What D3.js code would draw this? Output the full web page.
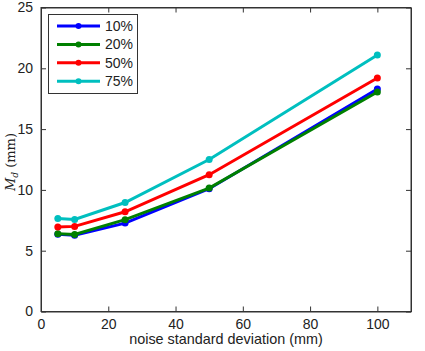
<!DOCTYPE html>
<html>
<head>
<meta charset="utf-8">
<script src="https://cdn.jsdelivr.net/npm/d3@7"></script>
<style>
  body { margin: 0; background: #fff; }
  text { font-family: Arial, "Liberation Sans", sans-serif; }
</style>
</head>
<body>
<div id="chart"></div>
<script>
// noise levels (mm)
const noise = [5, 10, 25, 50, 100];
const seriesNames = ["10%", "20%", "50%", "75%"];
const md10 = [6.35, 6.28, 7.27, 10.1, 18.3];
const md20 = [6.4, 6.33, 7.55, 10.15, 18.05];
const md50 = [6.94, 7.0, 8.2, 11.25, 19.2];
const md75 = [7.65, 7.57, 8.96, 12.5, 21.1];
const xTicks = [0, 20, 40, 60, 80, 100];
const yTicks = [0, 5, 10, 15, 20, 25];

const colors = ["#0000ff", "#008000", "#ff0000", "#00bfbf"];
const allSeries = [md10, md20, md50, md75];

let width = 425, height = 351;
let plotLeft = 41, plotRight = 411, plotTop = 7.5, plotBottom = 311.5;

const svg = d3.select("#chart")
    .append("svg")
    .attr("width", width)
    .attr("height", height);

const x = d3.scaleLinear().domain([0, 110]).range([plotLeft, plotRight]);
const y = d3.scaleLinear().domain([0, 25]).range([plotBottom, plotTop]);

// axes, ticks pointing inward like matlab
const tickLen = 5;
svg.append("g")
    .attr("transform", "translate(0," + plotBottom + ")")
    .call(d3.axisBottom(x).tickValues(xTicks).tickSizeInner(-tickLen).tickSizeOuter(0).tickPadding(8))
    .call(g => g.selectAll("text").attr("font-size", 14).attr("fill", "#222"));
svg.append("g")
    .attr("transform", "translate(" + plotLeft + ",0)")
    .call(d3.axisLeft(y).tickValues(yTicks).tickSizeInner(-tickLen).tickSizeOuter(0).tickPadding(8))
    .call(g => g.selectAll("text").attr("font-size", 14).attr("fill", "#222"));
// mirrored ticks on top and right
svg.append("g")
    .attr("transform", "translate(0," + plotTop + ")")
    .call(d3.axisTop(x).tickValues(xTicks).tickSizeInner(-tickLen).tickSizeOuter(0).tickFormat(""));
svg.append("g")
    .attr("transform", "translate(" + plotRight + ",0)")
    .call(d3.axisRight(y).tickValues(yTicks).tickSizeInner(-tickLen).tickSizeOuter(0).tickFormat(""));
svg.selectAll(".domain").attr("stroke", "#333");
svg.selectAll(".tick line").attr("stroke", "#333");

// box
svg.append("rect")
    .attr("x", plotLeft).attr("y", plotTop)
    .attr("width", plotRight - plotLeft).attr("height", plotBottom - plotTop)
    .attr("fill", "none").attr("stroke", "#333").attr("stroke-width", 1);

// lines
const line = d3.line().x((d, i) => x(noise[i])).y(d => y(d));
allSeries.forEach((s, k) => {
    svg.append("path")
        .datum(s)
        .attr("d", line)
        .attr("fill", "none")
        .attr("stroke", colors[k])
        .attr("stroke-width", 3);
    svg.selectAll(".pt" + k)
        .data(s)
        .enter()
            .append("circle")
            .attr("cx", (d, i) => x(noise[i]))
            .attr("cy", d => y(d))
            .attr("r", 3.5)
            .attr("fill", colors[k]);
});

// legend
const lg = svg.append("g");
lg.append("rect")
    .attr("x", 48.5).attr("y", 14.5)
    .attr("width", 89).attr("height", 79)
    .attr("fill", "#fff").attr("stroke", "#333");
seriesNames.forEach((name, k) => {
    let ly = 26 + k * 18.4;
    lg.append("line")
        .attr("x1", 57).attr("x2", 100)
        .attr("y1", ly).attr("y2", ly)
        .attr("stroke", colors[k]).attr("stroke-width", 3);
    lg.append("circle")
        .attr("cx", 78.5).attr("cy", ly).attr("r", 3)
        .attr("fill", colors[k]);
    lg.append("text")
        .attr("x", 105).attr("y", ly)
        .attr("dy", "0.36em")
        .attr("font-size", 14)
        .attr("fill", "#222")
        .text(name);
});

// axis labels
svg.append("text")
    .attr("x", 226)
    .attr("y", 344)
    .attr("text-anchor", "middle")
    .attr("font-size", 14.4)
    .attr("fill", "#222")
    .text("noise standard deviation (mm)");

const yl = svg.append("text")
    .attr("transform", "translate(15,162) rotate(-90)")
    .attr("text-anchor", "middle")
    .style("font-family", "'DejaVu Serif', 'Liberation Serif', serif")
    .attr("font-size", 13)
    .attr("fill", "#222");
yl.append("tspan").attr("font-style", "italic").text("M");
yl.append("tspan").attr("font-style", "italic").attr("font-size", 9).attr("dy", 3).text("d");
yl.append("tspan").attr("dy", -3).text(" (mm)");
</script>
</body>
</html>
